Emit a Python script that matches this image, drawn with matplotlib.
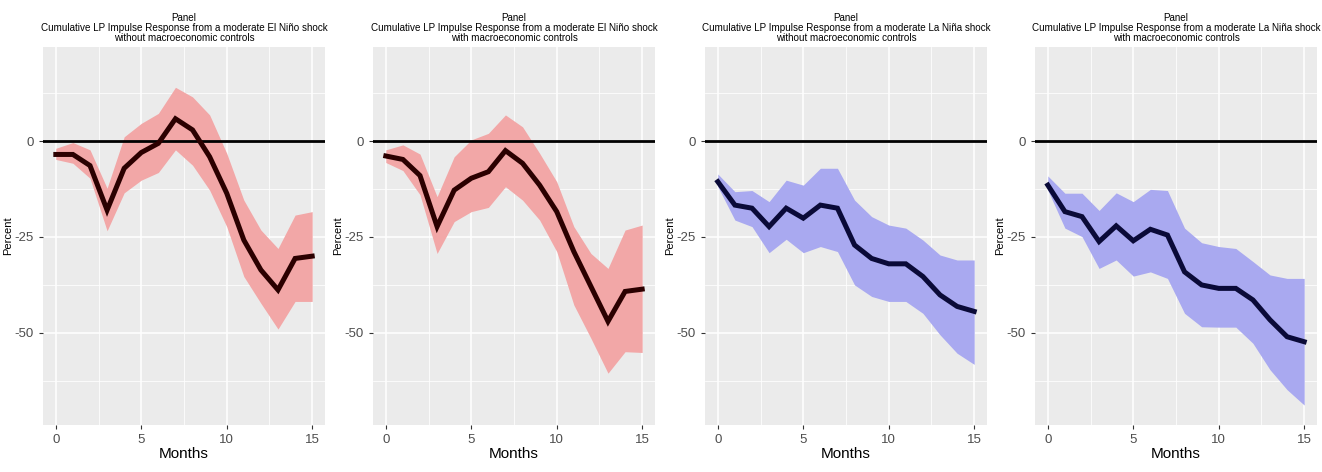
import numpy as np
import matplotlib.pyplot as plt
from matplotlib.ticker import MultipleLocator

#%% Data
months = list(range(16))

nino_wo = [-3.5, -3.5, -6.4, -18.0, -7.1, -3.0, -0.6, 5.8, 2.9, -4.1, -13.6, -25.8, -33.6, -38.8, -30.6, -30.0]
nino_wo_hi = [-1.9, -0.4, -2.3, -12.3, 1.1, 4.6, 7.2, 14.0, 11.5, 6.8, -3.2, -15.4, -23.2, -28.0, -19.3, -18.4]
nino_wo_lo = [-4.8, -5.8, -9.7, -23.4, -13.5, -10.2, -8.2, -2.3, -6.3, -12.8, -22.3, -35.3, -42.3, -49.0, -41.8, -41.8]

nino_w = [-3.9, -4.8, -9.0, -22.3, -12.8, -9.7, -8.0, -2.5, -5.8, -11.5, -18.4, -28.8, -37.9, -47.0, -39.2, -38.6]
nino_w_hi = [-2.3, -1.0, -3.4, -14.5, -4.1, 0.3, 2.0, 6.8, 3.7, -3.2, -10.6, -22.3, -29.3, -33.2, -23.2, -21.9]
nino_w_lo = [-5.6, -7.7, -14.0, -29.3, -21.0, -18.4, -17.3, -11.9, -15.4, -20.6, -28.8, -42.7, -51.4, -60.5, -54.9, -55.1]

nina_wo = [-10.6, -16.7, -17.5, -22.3, -17.5, -20.1, -16.7, -17.5, -27.1, -30.6, -32.0, -32.0, -35.3, -40.1, -43.1, -44.4]
nina_wo_hi = [-8.6, -13.2, -12.9, -15.8, -10.2, -11.5, -7.1, -7.1, -15.4, -19.7, -21.9, -22.7, -25.8, -29.7, -31.0, -31.0]
nina_wo_lo = [-11.9, -20.6, -22.3, -29.1, -25.6, -29.1, -27.5, -28.8, -37.5, -40.5, -41.8, -41.8, -44.9, -50.5, -55.3, -58.2]

nina_w = [-11.5, -18.4, -19.7, -26.2, -22.1, -26.0, -23.0, -24.5, -34.1, -37.5, -38.4, -38.4, -41.4, -46.6, -51.0, -52.3]
nina_w_hi = [-9.1, -13.6, -13.6, -18.1, -13.5, -15.8, -12.6, -12.9, -22.7, -26.5, -27.5, -28.0, -31.4, -34.9, -35.8, -35.8]
nina_w_lo = [-12.8, -22.7, -24.9, -33.2, -31.0, -35.2, -34.1, -35.8, -44.9, -48.4, -48.5, -48.5, -52.7, -59.6, -64.8, -68.8]

titles = [
    "Panel\nCumulative LP Impulse Response from a moderate El Niño shock\nwithout macroeconomic controls",
    "Panel\nCumulative LP Impulse Response from a moderate El Niño shock\nwith macroeconomic controls",
    "Panel\nCumulative LP Impulse Response from a moderate La Niña shock\nwithout macroeconomic controls",
    "Panel\nCumulative LP Impulse Response from a moderate La Niña shock\nwith macroeconomic controls",
]

panels = [
    (nino_wo, nino_wo_lo, nino_wo_hi, "#f2a7a7", "#2b0000"),
    (nino_w, nino_w_lo, nino_w_hi, "#f2a7a7", "#2b0000"),
    (nina_wo, nina_wo_lo, nina_wo_hi, "#a9a9f0", "#0a0a38"),
    (nina_w, nina_w_lo, nina_w_hi, "#a9a9f0", "#0a0a38"),
]

#%% Plot
plt.rcParams['font.family'] = ['Liberation Sans', 'DejaVu Sans']
plt.rcParams['axes.unicode_minus'] = False
fig = plt.figure(figsize=(13.22, 4.72), dpi=100)

W, H = 1322, 472
lefts = [43, 373, 705, 1035]
pw = 282
top, bottom = 47, 425

for i, (mid, lo, hi, fcol, lcol) in enumerate(panels):
    ax = fig.add_axes([lefts[i] / W, 1 - bottom / H, pw / W, (bottom - top) / H])
    ax.set_facecolor("#ebebeb")
    ax.set_xlim(-0.75, 15.75)
    ax.set_ylim(-74, 24.5)
    ax.xaxis.set_major_locator(MultipleLocator(5))
    ax.xaxis.set_minor_locator(MultipleLocator(2.5))
    ax.yaxis.set_major_locator(MultipleLocator(25))
    ax.yaxis.set_minor_locator(MultipleLocator(12.5))
    ax.grid(which="major", color="white", linewidth=1.1)
    ax.grid(which="minor", color="white", linewidth=0.55)
    ax.set_axisbelow(True)
    for s in ax.spines.values():
        s.set_visible(False)
    ax.tick_params(which="major", length=3, color="#333333", labelsize=9.5, labelcolor="#4d4d4d")
    ax.tick_params(which="minor", length=0)

    ax.fill_between(months, lo, hi, color=fcol, linewidth=0, zorder=2)
    ax.axhline(0, color="black", linewidth=2, zorder=3)
    ax.plot(months, mid, color=lcol, linewidth=3.6, zorder=4, solid_joinstyle="miter")

    ax.set_title(titles[i], fontsize=7.1, linespacing=1.05, pad=4)
    ax.set_ylabel("Percent", fontsize=8, labelpad=1)
    ax.set_xlabel("Months", fontsize=11, labelpad=1)

plt.savefig("out.png", dpi=100)
